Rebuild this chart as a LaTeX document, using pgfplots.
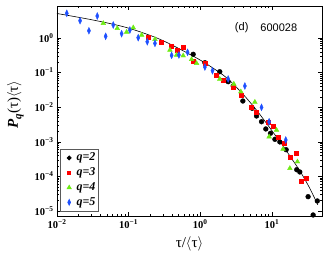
\documentclass[border=0pt]{standalone}
\usepackage{fontspec}
\setmainfont{Liberation Serif}
\newfontfamily\sansf{Liberation Sans}
\usepackage{pgfplots}
\pgfplotsset{compat=1.18}
\definecolor{qred}{RGB}{255,0,0}
\definecolor{qgreen}{RGB}{110,235,20}
\definecolor{qblue}{RGB}{30,80,255}
\newcommand{\tl}[1]{\textbf{10\textsuperscript{#1}}}
\pgfplotsset{myleg/.style={legend image code/.code={\path[draw=none,fill=none] (0cm,0cm) rectangle (0.56cm,0cm); \draw[##1] plot[only marks] coordinates {(0.3cm,0cm)};}}}
\begin{document}
\begin{tikzpicture}
\useasboundingbox (-57pt,-39pt) rectangle (270pt,216pt);
\begin{axis}[
  scale only axis, width=265pt, height=210pt,
  at={(0,0)}, anchor=south west,
  xmode=log, ymode=log,
  xmin=0.01, xmax=50, ymin=7.16e-6, ymax=8.41,
  clip=false,
  axis line style={line width=0.8pt},
  tick style={black, line width=0.5pt},
  major tick length=4pt, minor tick length=2.2pt,
  xtick={0.01,0.1,1,10},
  xticklabels={\tl{−2},\tl{−1},\tl{0},\tl{1}},
  ytick={1e-5,1e-4,1e-3,1e-2,1e-1,1},
  yticklabels={\tl{−5},\tl{−4},\tl{−3},\tl{−2},\tl{−1},\tl{0}},
  tick label style={font=\fontsize{10.5}{12}\selectfont},
  xlabel={τ/$\langle$τ$\rangle$},
  xlabel style={font=\fontsize{15}{17}\selectfont, at={(axis description cs:0.5,-0.131)}, anchor=center},
  ylabel={\textbf{\textit{P}}\raisebox{-0.5ex}{\fontsize{11}{12}\selectfont\textbf{\textit{q}}}(τ)$\langle$τ$\rangle$},
  ylabel style={font=\fontsize{15}{17}\selectfont, at={(axis description cs:-0.157,0.53)}, anchor=center},
  legend style={at={(rel axis cs:0.011,0.02)}, anchor=south west, draw=gray!70!black, line width=0.9pt,
    font=\fontsize{12}{13}\selectfont\bfseries\itshape, row sep=0.8pt, inner sep=2pt,
    nodes={inner sep=1.5pt, text height=8.5pt, text depth=2.5pt}},
  legend cell align=left,
  legend image post style={scale=0.8},
]
\addplot[only marks, mark=*, mark size=2.4pt, black, myleg] table {
x y
0.796 0.338
1.16 0.193
1.87 0.106
2.45 0.0546
2.88 0.041
3.93 0.0151
5.30 0.0093
6.10 0.00557
7.16 0.0038
8.22 0.00235
9.55 0.00176
11.0 0.00118
12.9 0.00099
15.8 0.00059
22.2 0.000156
24.5 0.000134
32.0 0.0000259
43.0 0.0000195
37.6 0.00000766
};
\addplot[only marks, mark=square*, mark size=2.0pt, qred, myleg] table {
x y
0.187 1.09
0.288 0.78
0.398 0.561
0.482 0.430
0.577 0.525
0.796 0.207
1.16 0.193
1.69 0.0853
2.08 0.0611
2.88 0.0391
3.77 0.0225
5.20 0.0103
6.10 0.0074
8.85 0.0038
10.4 0.00286
12.2 0.00135
14.8 0.00091
17.8 0.00037
21.5 0.00047
25.9 0.0000703
30.4 0.0000899
};
\addplot[only marks, mark=triangle*, mark size=2.7pt, qgreen, myleg] table {
x y
0.0443 2.66
0.0694 1.91
0.0937 1.49
0.116 1.99
0.152 1.22
0.233 0.92
0.377 0.45
0.467 0.323
0.577 0.308
0.756 0.242
0.888 0.186
1.87 0.0653
2.94 0.0469
3.68 0.0281
5.78 0.0141
9.14 0.0014
11.6 0.00219
14.3 0.00062
17.8 0.000171
22.7 0.000266
};
\addplot[only marks, mark=diamond*, mark size=3.4pt, qblue, mark options={xscale=0.62}, myleg] table {
x y
0.0137 5.17
0.0210 3.16
0.0279 1.62
0.0365 4.32
0.0478 1.12
0.0610 2.38
0.0798 1.33
0.104 1.70
0.136 1.02
0.182 0.78
0.233 0.70
0.398 0.316
0.503 0.323
0.665 0.386
1.16 0.145
1.48 0.113
2.45 0.0653
4.19 0.041
7.16 0.0099
9.14 0.0038
15.6 0.00113
};
\addplot[black, line width=0.6pt, smooth, no marks] coordinates {
(0.01,5.11) (0.0318,3.31) (0.0946,1.99) (0.274,0.917) (0.789,0.302)
(1.36,0.155) (2.35,0.0698) (3.93,0.0240) (5.96,0.00871) (8.22,0.00363)
(11.3,0.00148) (14.2,0.000776) (18.9,0.000324) (24.5,0.000145)
(32.7,0.0000513) (43.7,0.0000151)
};
\legend{q=2,q=3,q=4,q=5}
\node[font=\sansf\fontsize{11}{12}\selectfont] at (rel axis cs:0.697,0.897) {(d)};
\node[font=\sansf\fontsize{11}{12}\selectfont] at (rel axis cs:0.837,0.897) {600028};
\end{axis}
\end{tikzpicture}
\end{document}
